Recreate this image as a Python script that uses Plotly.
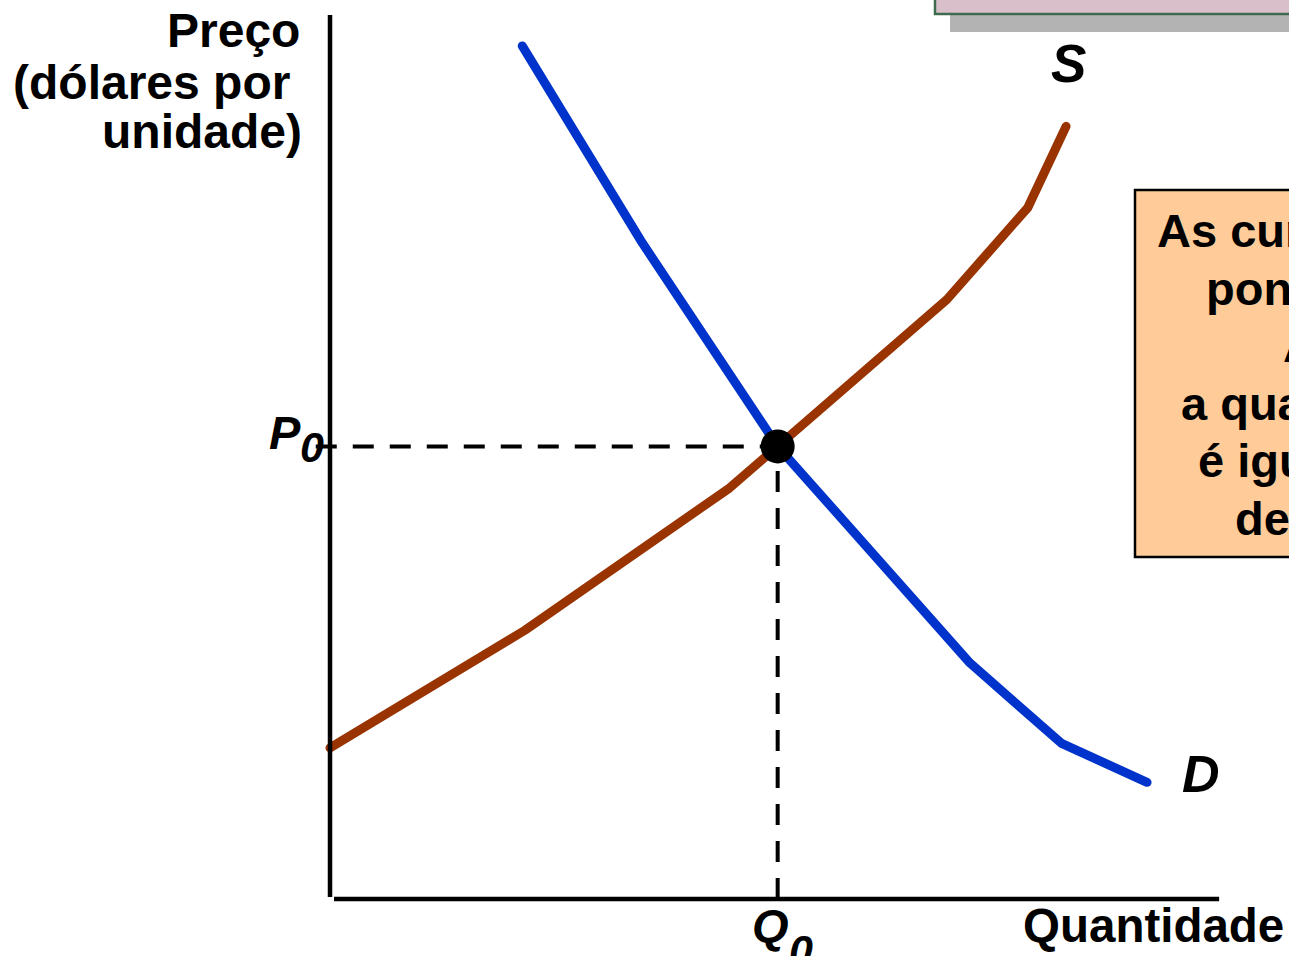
import plotly.graph_objects as go

# ---------------- data ----------------
supply_q = [0.00, 2.19, 4.49, 5.03, 6.93, 7.84, 8.27]
supply_p = [1.71, 3.04, 4.65, 5.12, 6.78, 7.82, 8.74]

demand_q = [2.16, 3.51, 5.03, 7.19, 8.22, 9.18]
demand_p = [9.65, 7.42, 5.12, 2.67, 1.76, 1.32]

eq_q = [5.03]
eq_p = [5.12]

y_title_lines = ["Preço", "(dólares por", "unidade)"]
x_title = "Quantidade"
box_lines = [
    "As curvas se cruzam no",
    "ponto de equilíbrio.",
    "Ao preço P0,",
    "a quantidade ofertada",
    "é igual à quantidade",
    "demandada Q0.",
]

# ---------------- geometry helpers ----------------
W, H = 1289, 956
X0_PX, XS = 330, 89.0      # pixel of q=0, px per unit
Y0_PX, YS = 899, 88.4      # pixel of p=0, px per unit


def ax(px):
    return px / W


def ay(py):
    return 1 - py / H


FONT = "Liberation Sans, Arial, sans-serif"
SUPPLY_C = "#993300"
DEMAND_C = "#0033CC"

fig = go.Figure()

# dashed guide lines
fig.add_trace(go.Scatter(
    x=[-0.16, eq_q[0]], y=[eq_p[0], eq_p[0]], mode="lines",
    line=dict(color="black", width=4, dash="21px,16px"), hoverinfo="skip"))
fig.add_trace(go.Scatter(
    x=[eq_q[0], eq_q[0]], y=[0, eq_p[0]], mode="lines",
    line=dict(color="black", width=4, dash="21px,16px"), hoverinfo="skip"))

# demand and supply
fig.add_trace(go.Scatter(x=demand_q, y=demand_p, mode="lines",
                         line=dict(color=DEMAND_C, width=9), name="D"))
fig.add_trace(go.Scatter(x=supply_q, y=supply_p, mode="lines",
                         line=dict(color=SUPPLY_C, width=9), name="S"))

# equilibrium point
fig.add_trace(go.Scatter(x=eq_q, y=eq_p, mode="markers",
                         marker=dict(color="black", size=34), name="E"))

shapes = []
# axes
shapes.append(dict(type="line", xref="x", yref="y", x0=0, x1=0, y0=0.023, y1=10.0,
                   line=dict(color="black", width=4.5)))
shapes.append(dict(type="line", xref="x", yref="y", x0=0.045, x1=9.99, y0=0, y1=0,
                   line=dict(color="black", width=4.5)))
# top (cropped) box with shadow
shapes.append(dict(type="rect", xref="paper", yref="paper",
                   x0=ax(950), x1=ax(1450), y0=ay(32), y1=ay(-20),
                   fillcolor="#B3B3B3", line=dict(width=0), layer="above"))
shapes.append(dict(type="rect", xref="paper", yref="paper",
                   x0=ax(935), x1=ax(1450), y0=ay(14), y1=ay(-40),
                   fillcolor="#D9BFCA", line=dict(color="#3E6B4E", width=2.5), layer="above"))
# orange text box
shapes.append(dict(type="rect", xref="paper", yref="paper",
                   x0=ax(1135), x1=ax(1450), y0=ay(557), y1=ay(190),
                   fillcolor="#FFCC99", line=dict(color="black", width=2.5), layer="above"))

annotations = []


def label(text, x, y, size, xanchor="center", italic=False):
    annotations.append(dict(
        text=text, x=ax(x), y=ay(y), xref="paper", yref="paper",
        xanchor=xanchor, yanchor="middle", showarrow=False, borderpad=0,
        font=dict(family=FONT, size=size, color="black", weight="bold",
                  style="italic" if italic else "normal")))


# y-axis title (right aligned)
label(y_title_lines[0], 301, 31, 48, xanchor="right")
label(y_title_lines[1], 291, 83, 48, xanchor="right")
label(y_title_lines[2], 303, 132, 48, xanchor="right")

# x-axis title
label(x_title, 1022, 925, 47.5, xanchor="left")

# curve labels
label("S", 1068, 64, 53, italic=True)
label("D", 1201, 774, 52, italic=True)

# P0 / Q0
label("P", 285, 432, 47, italic=True)
label("0", 312, 447, 43, italic=True)
label("Q", 770, 925, 47, italic=True)
label("0", 801, 950, 43, italic=True)

# box text (cropped on the right)
box_x = [1156, 1205, 1282, 1180, 1197, 1234]
box_y = [231, 288.5, 346, 403.5, 461, 518.5]
for t, bx, by in zip(box_lines, box_x, box_y):
    label(t, bx, by, 47, xanchor="left")

fig.update_layout(
    width=W, height=H,
    margin=dict(l=0, r=0, t=0, b=0, pad=0),
    paper_bgcolor="white", plot_bgcolor="white",
    showlegend=False,
    xaxis=dict(range=[-X0_PX / XS, (W - X0_PX) / XS], visible=False, fixedrange=True),
    yaxis=dict(range=[(Y0_PX - H) / YS, Y0_PX / YS], visible=False, fixedrange=True),
    shapes=shapes,
    annotations=annotations,
)

post = """
document.body.style.margin='0';
document.querySelectorAll('path.js-line').forEach(function(p){
  var s = p.style.stroke || '';
  if (s.indexOf('153, 51, 0') >= 0 || s.indexOf('0, 51, 204') >= 0) {
    p.style.strokeLinecap = 'round';
    p.style.strokeLinejoin = 'round';
  }
});
"""

fig.write_html("out.html", config={"displayModeBar": False}, post_script=post)
